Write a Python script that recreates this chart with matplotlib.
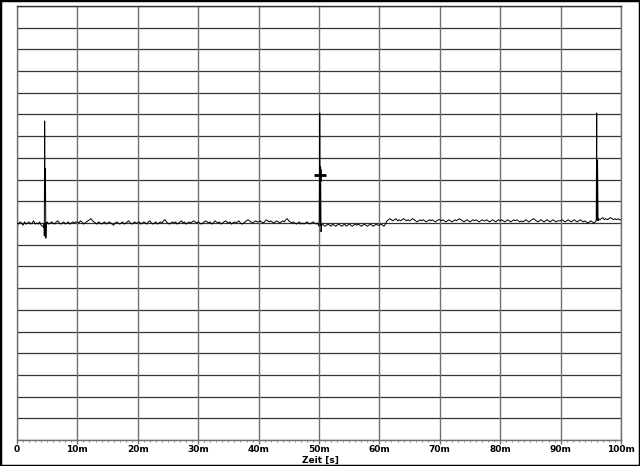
import numpy as np
import matplotlib
matplotlib.use("Agg")
import matplotlib.pyplot as plt
from matplotlib.patches import Rectangle
from matplotlib.ticker import MultipleLocator, FuncFormatter

# noise trace, one value every 0.25 ms, in units of 0.05 division
noise_str = """
0 -1 1 0 -2 1 -1 0 1 -1 0 2 -1 0 -1 1 -2 -3 -1 0 1 -1 0 1 0 -1 1 2 0 -1 0 1 -1 0 1 -1 0 1 0 1
1 0 2 1 -1 0 1 2 3 4 2 1 0 -1 1 0 -1 0 1 -1 0 1 0 -1 -2 0 1 0 -1 0 1 -1 0 1 2 0 -1 0 1 0
0 1 -1 0 1 0 -1 1 2 0 -1 0 1 -1 0 1 0 2 3 1 0 -1 0 1 0 1 -1 0 1 2 0 1 -1 0 1 0 1 2 1 0
1 0 -1 0 1 2 1 0 1 -1 0 2 1 0 1 -1 0 1 2 1 0 1 -1 0 1 0 1 2 0 -1 0 1 2 3 2 1 0 1 2 1
1 2 1 0 1 3 2 1 2 1 0 1 2 1 0 1 2 1 3 4 2 1 0 1 0 -1 0 1 -1 0 -1 0 1 0 -1 0 1 0 -1 0
-3 -2 -1 -2 -3 -2 -1 -2 -3 -1 -2 -3 -2 -1 -2 -3 -2 -1 -3 -2 -1 -2 -3 -2 -1 -2 -1 -2 -3 -2 -1 -2 -3 -2 -1 -2 -3 -2 -1 -2
-2 -1 -2 -3 -1 2 3 4 3 2 3 4 2 3 2 3 4 3 2 3 2 3 4 3 2 1 2 3 2 3 2 1 2 3 2 3 2 1 2 3
3 2 3 2 1 2 3 2 1 2 3 2 3 4 3 2 1 2 3 2 1 2 3 2 3 2 1 2 3 2 2 3 2 1 2 3 2 1 2 3
2 3 2 1 2 3 2 1 2 3 2 3 2 1 2 1 2 3 2 1 2 3 4 3 2 1 2 3 2 1 2 3 2 1 2 3 2 1 2 2
2 3 2 1 2 3 2 1 2 3 2 1 2 3 2 1 2 1 0 1 2 1 0 1 3 4 3 4 5 3 4 3 4 5 4 3 4 3 4 3
3
"""
noise_vals = [int(v) for v in noise_str.split()]
noise_t = [i * 0.25 for i in range(len(noise_vals))]

# spikes (time in ms, level in divisions)
spike_t = [4.45, 4.52, 4.58, 4.64, 4.70, 4.78, 4.85,
           50.05, 50.12, 50.20, 50.26, 50.34, 50.42,
           95.85, 95.90, 95.98, 96.05, 96.12, 96.20]
spike_v = [-0.2, -0.6, 4.7, 1.0, 2.5, -0.7, 0.0,
           0.2, 5.07, 1.0, 2.6, -0.4, -0.1,
           0.1, 0.1, 5.07, 1.1, 2.9, 0.1]

cursor_t = [50.2]
cursor_v = [2.2]

x_ticks = [0, 10, 20, 30, 40, 50, 60, 70, 80, 90, 100]

t = np.array(noise_t + spike_t)
v = np.array([n * 0.05 for n in noise_vals] + spike_v)
order = np.argsort(t, kind="stable")
t = t[order]
v = v[order]

fig = plt.figure(figsize=(6.4, 4.66), dpi=100)
ax = fig.add_axes([17/640, 1-440/466, (621-17)/640, (440-6)/466])

# grid
for y in range(-10, 11):
    ax.axhline(y, color="#353535", lw=0.9, zorder=1)
for x in x_ticks:
    ax.axvline(x, color="#707070", lw=1.0, zorder=1)

ax.plot(t, v, color="black", lw=0.7, zorder=3)
ax.plot(cursor_t, cursor_v, marker="+", color="black", ms=8, mew=2, ls="none", zorder=4)

ax.set_xlim(0, 100)
ax.set_ylim(-10, 10)
ax.set_yticks([])
ax.xaxis.set_major_locator(MultipleLocator(10))
ax.xaxis.set_minor_locator(MultipleLocator(1))
ax.xaxis.set_major_formatter(FuncFormatter(lambda x, p: "0" if x == 0 else f"{int(x)}m"))
ax.tick_params(axis="x", which="major", length=3, width=1, color="#707070",
               labelsize=6.5, pad=0.5)
ax.tick_params(axis="x", which="minor", length=1.5, width=0.8, color="#909090")
for lbl in ax.get_xticklabels():
    lbl.set_fontweight("bold")
fig.text(0.5, 1 - 460.5/466, "Zeit [s]", fontsize=6.5, fontweight="bold",
         ha="center", va="center")

for s in ax.spines.values():
    s.set_color("#707070")
    s.set_linewidth(1.0)
ax.spines["top"].set_color("#303030")

fig.patches.append(Rectangle((0, 0), 1, 1, transform=fig.transFigure,
                             fill=False, edgecolor="black", lw=2.5))

fig.savefig("out.png", dpi=100)
